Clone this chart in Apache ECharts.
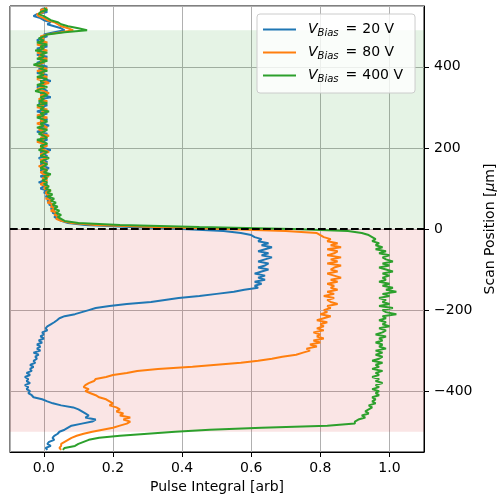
<!DOCTYPE html>
<html>
<head>
<meta charset="utf-8">
<script src="https://cdn.jsdelivr.net/npm/echarts@6/dist/echarts.min.js"></script>
<style>
html,body{margin:0;padding:0;background:#fff;}
#chart{width:499px;height:498px;}
</style>
</head>
<body>
<div id="chart"></div>
<script>
// Scan positions (μm), top to bottom
const positions = [
  545, 540, 535, 530, 525, 520, 515, 510, 505, 500,
  495, 490, 485, 480, 475, 470, 465, 460, 455, 450,
  445, 440, 435, 430, 425, 420, 415, 410, 405, 400,
  395, 390, 385, 380, 375, 370, 365, 360, 355, 350,
  345, 340, 335, 330, 325, 320, 315, 310, 305, 300,
  295, 290, 285, 280, 275, 270, 265, 260, 255, 250,
  245, 240, 235, 230, 225, 220, 215, 210, 205, 200,
  195, 190, 185, 180, 175, 170, 165, 160, 155, 150,
  145, 140, 135, 130, 125, 120, 115, 110, 105, 100,
  95, 90, 85, 80, 75, 70, 65, 60, 55, 50,
  45, 40, 35, 30, 25, 20, 15, 10, 5, 0,
  -5, -10, -15, -20, -25, -30, -35, -40, -45, -50,
  -55, -60, -65, -70, -75, -80, -85, -90, -95, -100,
  -105, -110, -115, -120, -125, -130, -135, -140, -145, -150,
  -155, -160, -165, -170, -175, -180, -185, -190, -195, -200,
  -205, -210, -215, -220, -225, -230, -235, -240, -245, -250,
  -255, -260, -265, -270, -275, -280, -285, -290, -295, -300,
  -305, -310, -315, -320, -325, -330, -335, -340, -345, -350,
  -355, -360, -365, -370, -375, -380, -385, -390, -395, -400,
  -405, -410, -415, -420, -425, -430, -435, -440, -445, -450,
  -455, -460, -465, -470, -475, -480, -485, -490, -495, -500,
  -505, -510, -515, -520, -525, -530, -535, -540, -545
];

// Pulse integral [arb], V_Bias = 20 V
const pulse20 = [
  0.00, -0.01, 0.01, -0.02, -0.03, -0.01, 0.00, 0.02, 0.01, 0.03,
  0.05, 0.06, 0.03, 0.00, 0.01, -0.01, -0.02, 0.00, -0.01, 0.01,
  -0.02, -0.01, 0.00, -0.02, 0.01, -0.01, 0.00, -0.02, -0.01, 0.01,
  -0.015, 0.00, -0.02, 0.01, -0.01, 0.00, 0.02, -0.01, 0.00, -0.02,
  0.00, 0.01, -0.01, 0.00, 0.02, -0.01, 0.00, -0.015, 0.01, -0.01,
  0.00, -0.02, 0.01, -0.01, 0.00, 0.01, -0.01, 0.00, 0.015, -0.01,
  0.00, -0.02, 0.01, -0.005, 0.00, 0.01, -0.01, 0.005, -0.01, 0.00,
  0.02, -0.01, 0.00, 0.01, -0.015, 0.00, 0.01, -0.01, 0.00, 0.015,
  -0.01, 0.00, 0.01, -0.01, 0.005, 0.00, -0.015, 0.01, 0.00, -0.01,
  0.01, 0.00, 0.015, 0.005, 0.02, 0.01, 0.02, 0.015, 0.03, 0.02,
  0.03, 0.025, 0.04, 0.03, 0.04, 0.05, 0.07, 0.12, 0.25, 0.40,
  0.52, 0.57, 0.60, 0.61, 0.63, 0.62, 0.65, 0.63, 0.66, 0.64,
  0.62, 0.65, 0.63, 0.66, 0.64, 0.62, 0.65, 0.64, 0.62, 0.65,
  0.63, 0.61, 0.64, 0.62, 0.64, 0.61, 0.63, 0.61, 0.62, 0.58,
  0.55, 0.50, 0.45, 0.39, 0.35, 0.31, 0.24, 0.19, 0.15, 0.13,
  0.11, 0.09, 0.06, 0.045, 0.038, 0.03, 0.02, 0.01, 0.005, 0.01,
  -0.005, 0.00, -0.01, 0.00, -0.015, -0.005, -0.02, -0.01, -0.02, -0.01,
  -0.03, -0.015, -0.025, -0.02, -0.03, -0.025, -0.04, -0.03, -0.04, -0.035,
  -0.05, -0.04, -0.055, -0.045, -0.05, -0.04, -0.055, -0.045, -0.05, -0.04,
  -0.045, -0.035, -0.03, -0.005, 0.01, 0.026, 0.05, 0.085, 0.10, 0.11,
  0.12, 0.13, 0.12, 0.15, 0.14, 0.11, 0.08, 0.07, 0.06, 0.045,
  0.04, 0.03, 0.025, 0.03, 0.015, 0.01, 0.02, 0.005, 0.01
];

// Pulse integral [arb], V_Bias = 80 V
const pulse80 = [
  0.01, -0.01, 0.00, -0.02, -0.015, 0.00, 0.01, 0.03, 0.04, 0.05,
  0.07, 0.085, 0.05, 0.01, -0.01, 0.00, -0.01, 0.01, -0.02, 0.00,
  -0.01, 0.01, -0.02, 0.00, -0.015, 0.01, -0.01, 0.00, -0.025, -0.01,
  0.01, -0.02, 0.00, -0.01, 0.01, -0.02, 0.00, 0.015, -0.01, 0.00,
  -0.02, 0.00, 0.015, -0.01, 0.00, -0.015, 0.01, -0.01, 0.00, -0.02,
  0.01, -0.005, 0.00, -0.02, 0.01, -0.01, 0.00, -0.02, 0.00, 0.01,
  -0.015, 0.00, -0.01, 0.015, -0.01, 0.00, -0.02, 0.00, 0.01, -0.01,
  0.00, 0.015, -0.01, 0.00, 0.01, -0.01, 0.00, 0.01, -0.015, 0.00,
  0.01, -0.01, 0.00, 0.015, -0.005, 0.01, 0.00, -0.01, 0.01, 0.00,
  0.02, 0.005, 0.01, 0.02, 0.005, 0.025, 0.01, 0.03, 0.02, 0.035,
  0.02, 0.04, 0.03, 0.045, 0.035, 0.05, 0.08, 0.15, 0.32, 0.52,
  0.70, 0.79, 0.80, 0.81, 0.83, 0.82, 0.85, 0.83, 0.86, 0.82,
  0.85, 0.84, 0.82, 0.86, 0.83, 0.85, 0.82, 0.86, 0.84, 0.83,
  0.85, 0.82, 0.84, 0.86, 0.83, 0.85, 0.82, 0.84, 0.83, 0.85,
  0.82, 0.84, 0.81, 0.84, 0.82, 0.83, 0.85, 0.82, 0.83, 0.81,
  0.82, 0.80, 0.83, 0.81, 0.79, 0.82, 0.80, 0.81, 0.79, 0.81,
  0.78, 0.80, 0.79, 0.81, 0.78, 0.80, 0.77, 0.79, 0.76, 0.77,
  0.75, 0.73, 0.69, 0.66, 0.62, 0.57, 0.50, 0.43, 0.33, 0.27,
  0.24, 0.20, 0.18, 0.15, 0.145, 0.13, 0.12, 0.115, 0.13, 0.12,
  0.135, 0.15, 0.16, 0.18, 0.19, 0.20, 0.19, 0.21, 0.22, 0.21,
  0.23, 0.22, 0.25, 0.23, 0.25, 0.24, 0.22, 0.20, 0.17, 0.14,
  0.115, 0.095, 0.08, 0.07, 0.06, 0.05, 0.05, 0.045, 0.05
];

// Pulse integral [arb], V_Bias = 400 V
const pulse400 = [
  0.00, 0.01, -0.01, -0.015, 0.00, 0.01, 0.02, 0.04, 0.05, 0.07,
  0.10, 0.125, 0.06, 0.01, 0.00, -0.015, 0.00, -0.02, 0.01, -0.01,
  0.00, -0.025, 0.01, -0.01, 0.00, -0.02, 0.01, -0.01, -0.03, 0.00,
  -0.01, 0.01, -0.015, 0.00, -0.02, 0.01, -0.01, 0.00, -0.02, 0.01,
  -0.01, -0.025, 0.00, 0.01, -0.01, 0.00, -0.015, 0.01, -0.02, 0.00,
  -0.01, 0.015, -0.01, 0.00, -0.02, 0.00, 0.01, -0.01, 0.00, -0.02,
  0.01, 0.00, -0.015, 0.00, 0.01, -0.02, 0.00, 0.01, -0.01, 0.00,
  -0.015, 0.01, 0.00, -0.01, 0.015, 0.00, -0.01, 0.01, 0.00, -0.01,
  0.01, 0.00, 0.02, 0.00, 0.01, -0.005, 0.01, 0.00, 0.015, 0.005,
  0.02, 0.01, 0.025, 0.01, 0.03, 0.02, 0.035, 0.025, 0.04, 0.03,
  0.045, 0.035, 0.05, 0.04, 0.05, 0.06, 0.10, 0.22, 0.45, 0.72,
  0.88, 0.92, 0.94, 0.95, 0.96, 0.95, 0.97, 0.96, 0.98, 0.96,
  0.99, 0.97, 1.00, 0.98, 0.99, 1.01, 0.98, 1.00, 0.97, 0.99,
  1.01, 0.98, 1.00, 0.98, 0.99, 0.97, 1.00, 0.98, 1.01, 0.99,
  1.02, 0.98, 1.00, 0.97, 0.99, 0.98, 1.00, 0.97, 1.01, 0.98,
  0.99, 1.02, 0.98, 0.99, 0.97, 0.99, 0.98, 1.00, 0.97, 0.99,
  0.98, 0.96, 0.99, 0.97, 0.98, 0.96, 0.98, 0.97, 0.99, 0.96,
  0.98, 0.96, 0.98, 0.97, 0.95, 0.98, 0.96, 0.97, 0.95, 0.98,
  0.96, 0.97, 0.95, 0.97, 0.96, 0.98, 0.96, 0.97, 0.95, 0.97,
  0.96, 0.97, 0.95, 0.96, 0.95, 0.96, 0.94, 0.95, 0.94, 0.93,
  0.94, 0.92, 0.93, 0.91, 0.90, 0.90, 0.82, 0.63, 0.48, 0.38,
  0.30, 0.22, 0.16, 0.13, 0.115, 0.10, 0.09, 0.06, 0.055
];

const seriesNames = ['V20', 'V80', 'V400'];
const biasLabels = ['20 V', '80 V', '400 V'];
const seriesColors = ['#1f77b4', '#ff7f0e', '#2ca02c'];
const seriesValues = [pulse20, pulse80, pulse400];

// shaded regions (μm)
const greenBand = [0, 490];
const redBand = [-500, 0];

function pairs(vals) {
  return vals.map((v, i) => [v, positions[i]]);
}

const FONT = 'DejaVu Sans';
const chart = echarts.init(document.getElementById('chart'), null, {renderer: 'canvas'});

const series = seriesValues.map((vals, k) => ({
  name: seriesNames[k],
  type: 'line',
  data: pairs(vals),
  showSymbol: false,
  symbol: 'none',
  lineStyle: {color: seriesColors[k], width: 2},
  itemStyle: {color: seriesColors[k]},
  z: 2 + k,
  animation: false
}));

series[0].markArea = {
  silent: true,
  z: 1,
  data: [
    [{yAxis: greenBand[0], itemStyle: {color: 'rgba(44,160,44,0.12)'}}, {yAxis: greenBand[1]}],
    [{yAxis: redBand[0], itemStyle: {color: 'rgba(214,39,40,0.12)'}}, {yAxis: redBand[1]}]
  ]
};
series[0].markLine = {
  silent: true,
  symbol: ['none', 'none'],
  z: 10,
  label: {show: false},
  lineStyle: {color: '#000', type: [7.7, 3.3], width: 2},
  data: [{yAxis: 0}]
};

chart.setOption({
  animation: false,
  backgroundColor: '#fff',
  grid: {
    left: 10, right: 75, top: 6, bottom: 46,
    outerBoundsMode: 'none',
    containLabel: false,
    show: true, borderColor: '#000', borderWidth: 1, backgroundColor: 'transparent'
  },
  legend: {
    orient: 'vertical',
    left: 257, top: 14,
    data: seriesNames.map((n, k) => ({name: n, icon: 'rect', itemStyle: {color: seriesColors[k]}})),
    itemWidth: 33, itemHeight: 2, itemGap: 6,
    padding: [7, 12, 9, 6],
    backgroundColor: 'rgba(255,255,255,0.8)',
    borderColor: '#cccccc', borderWidth: 1, borderRadius: 3,
    formatter: function (name) {
      const k = seriesNames.indexOf(name);
      return '{v|V}{s|Bias}{e|=}{n|' + biasLabels[k] + '}';
    },
    textStyle: {
      fontFamily: FONT, fontSize: 14, color: '#000',
      rich: {
        v: {fontFamily: FONT, fontSize: 14, fontStyle: 'italic', color: '#000', padding: [0, 0, 0, 7], lineHeight: 18},
        s: {fontFamily: FONT, fontSize: 10, fontStyle: 'italic', color: '#000', padding: [7, 0, 0, 0], lineHeight: 18},
        e: {fontFamily: FONT, fontSize: 14, color: '#000', padding: [0, 5, 0, 7], lineHeight: 18},
        n: {fontFamily: FONT, fontSize: 14, color: '#000', lineHeight: 18}
      }
    }
  },
  xAxis: {
    type: 'value',
    min: -0.098, max: 1.1,
    name: 'Pulse Integral [arb]',
    nameLocation: 'middle', nameGap: 28,
    nameTextStyle: {fontFamily: FONT, fontSize: 14, color: '#000'},
    axisLine: {show: true, onZero: false, lineStyle: {color: '#000', width: 1}},
    axisTick: {show: true, inside: false, length: 5, lineStyle: {color: '#000', width: 1}},
    axisLabel: {
      show: true, margin: 9, fontFamily: FONT, fontSize: 14, color: '#000',
      showMinLabel: false, showMaxLabel: false,
      formatter: v => v.toFixed(1)
    },
    splitLine: {show: true, lineStyle: {color: '#b0b0b0', width: 1}}
  },
  yAxis: {
    type: 'value',
    position: 'right',
    min: -550, max: 550,
    name: 'Scan Position [{i|μ}m]',
    nameLocation: 'middle', nameGap: 58, nameRotate: 90,
    nameTextStyle: {fontFamily: FONT, fontSize: 14, color: '#000',
      rich: {i: {fontFamily: FONT, fontSize: 14, fontStyle: 'italic', color: '#000'}}},
    axisLine: {show: true, onZero: false, lineStyle: {color: '#000', width: 1}},
    axisTick: {show: true, inside: false, length: 5, lineStyle: {color: '#000', width: 1}},
    axisLabel: {
      show: true, margin: 10, fontFamily: FONT, fontSize: 14, color: '#000',
      showMinLabel: false, showMaxLabel: false,
      formatter: v => (v < 0 ? '\u2212' + (-v) : String(v))
    },
    splitLine: {show: true, lineStyle: {color: '#b0b0b0', width: 1}}
  },
  series: series
});
</script>
</body>
</html>
